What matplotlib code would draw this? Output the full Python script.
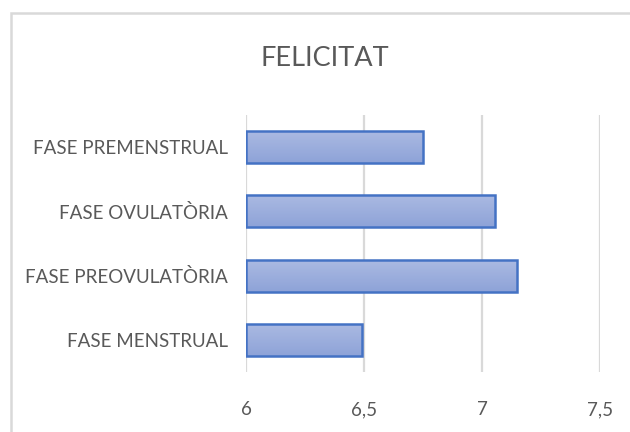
import numpy as np
import matplotlib
matplotlib.use("Agg")
import matplotlib.pyplot as plt
from matplotlib.patches import Rectangle
from matplotlib.colors import LinearSegmentedColormap

# ========== DATA ========== #
categories = ["FASE MENSTRUAL", "FASE PREOVULATÒRIA", "FASE OVULATÒRIA", "FASE PREMENSTRUAL"]
values = [6.49, 7.15, 7.055, 6.75]
x_ticks = [6, 6.5, 7, 7.5]
x_tick_labels = ["6", "6,5", "7", "7,5"]
title = "FELICITAT"

# ========== STYLE ========== #
plt.rcParams["font.family"] = ["Lato", "DejaVu Sans"]
TEXT_COLOR = "#595959"
GRID_COLOR = "#d9d9d9"
EDGE_COLOR = "#4472c4"
grad = LinearSegmentedColormap.from_list("bar_grad", ["#8ea3d8", "#abbae2"])

fig = plt.figure(figsize=(6.3, 4.32), dpi=100)
ax = fig.add_axes([246 / 630, 1 - 372 / 432, (600 - 246) / 630, (372 - 115) / 432])

# chart frame (cut off at right and bottom like the screenshot)
fig.patches.append(Rectangle((11 / 630, -0.05), 1.2, (1 - 13 / 432) + 0.05,
                             transform=fig.transFigure, fill=False,
                             edgecolor=GRID_COLOR, linewidth=1.8, zorder=0))

ypos = np.arange(len(categories))
bars = ax.barh(ypos, [v - x_ticks[0] for v in values], left=x_ticks[0], height=0.5,
               color="none", edgecolor=EDGE_COLOR, linewidth=1.8, zorder=3)

# gradient fill inside each bar
for b in bars:
    x0, y0 = b.get_x(), b.get_y()
    w, h = b.get_width(), b.get_height()
    im = ax.imshow(np.linspace(0, 1, 64).reshape(-1, 1), cmap=grad, aspect="auto",
                   extent=[x0, x0 + w, y0, y0 + h], origin="lower", zorder=2)
    im.set_clip_path(b)

ax.set_xlim(6, 7.5)
ax.set_ylim(-0.5, 3.5)
ax.set_xticks(x_ticks)
ax.set_xticklabels(x_tick_labels)
ax.set_yticks(ypos)
ax.set_yticklabels(categories)
ax.tick_params(axis="both", length=0, labelsize=13.5, colors=TEXT_COLOR)
ax.tick_params(axis="x", pad=21)
ax.tick_params(axis="y", pad=13)

for s in ax.spines.values():
    s.set_visible(False)
ax.grid(axis="x", color=GRID_COLOR, linewidth=1.6, zorder=0)
ax.set_axisbelow(True)

fig.text(325 / 630, 1 - 58 / 432, title, ha="center", va="center",
         fontsize=19.5, color=TEXT_COLOR)

fig.savefig("out.png", dpi=100)
